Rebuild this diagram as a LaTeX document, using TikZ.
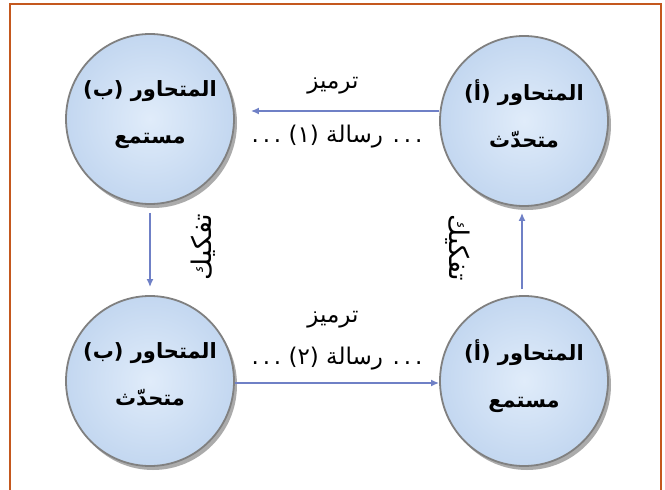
\documentclass[tikz,border=0pt]{standalone}
\usepackage{fontspec}
\usetikzlibrary{shapes.geometric,arrows.meta,shadows}
\newfontfamily\arabicfont[Script=Arabic]{DejaVu Sans}
\TeXXeTstate=1
\definecolor{frameorange}{HTML}{C4581E}
\definecolor{circfill}{HTML}{E0ECFA}
\definecolor{circedge}{HTML}{C3D7F0}
\definecolor{arrblue}{HTML}{6F80C6}
\newcommand{\twolines}[2]{\beginR #1\endR\\ \beginR #2\endR\rule[-14pt]{0pt}{14pt}}
\tikzset{
  party/.style={ellipse, minimum width=168pt, minimum height=170pt, inner xsep=-14pt, inner ysep=0pt,
    shading=radial, inner color=circfill, outer color=circedge,
    draw=black!50, line width=1.8pt,
    drop shadow={shadow xshift=3pt, shadow yshift=-4pt, fill=black!60, opacity=0.55},
    align=center, font=\arabicfont\bfseries\fontsize{21}{47}\selectfont},
  arr/.style={draw=arrblue, line width=1.6pt, -{Latex[length=8pt,width=7pt]}},
  lbl/.style={inner sep=0pt, font=\arabicfont\fontsize{23}{26}\selectfont},
  vlbl/.style={inner sep=0pt, font=\arabicfont\fontsize{27}{30}\selectfont}
}
\begin{document}
\begin{tikzpicture}[x=1pt,y=-1pt]
\useasboundingbox (0,0) rectangle (665,490);
\fill[white] (0,0) rectangle (665,490);
\draw[frameorange, line width=2.5pt] (10,492) -- (10,4) -- (661,4) -- (661,492);
\node[party] (tl) at (150,119) {\twolines{المتحاور (ب)}{مستمع}};
\node[party] (tr) at (524,121) {\twolines{المتحاور (أ)}{متحدّث}};
\node[party] (bl) at (150,381) {\twolines{المتحاور (ب)}{متحدّث}};
\node[party] (br) at (524,381) {\twolines{المتحاور (أ)}{مستمع}};
\draw[arr, shorten >=16pt] (tr.west |- 0,111) -- (tl.east |- 0,111);
\draw[arr] (bl.east |- 0,383) -- (br.west |- 0,383);
\draw[arr, shorten <=8pt, shorten >=8pt] (tl) -- (bl);
\draw[arr, shorten <=6pt, shorten >=6pt] (br.north -| 522,0) -- (tr.south -| 522,0);
\node[lbl] (t1) at (333,86) {\beginR ترميز\endR};
\node[lbl] (m1) at (337,137) {\beginR .\,.\,. رسالة (١) .\,.\,.\endR};
\node[lbl] (t2) at (333,320) {\beginR ترميز\endR};
\node[lbl] (m2) at (337,359) {\beginR .\,.\,. رسالة (٢) .\,.\,.\endR};
\node[vlbl, rotate=90] (d1) at (203,247) {\beginR تفكيك\endR};
\node[vlbl, rotate=-90] (d2) at (458,248) {\beginR تفكيك\endR};
\end{tikzpicture}
\end{document}
